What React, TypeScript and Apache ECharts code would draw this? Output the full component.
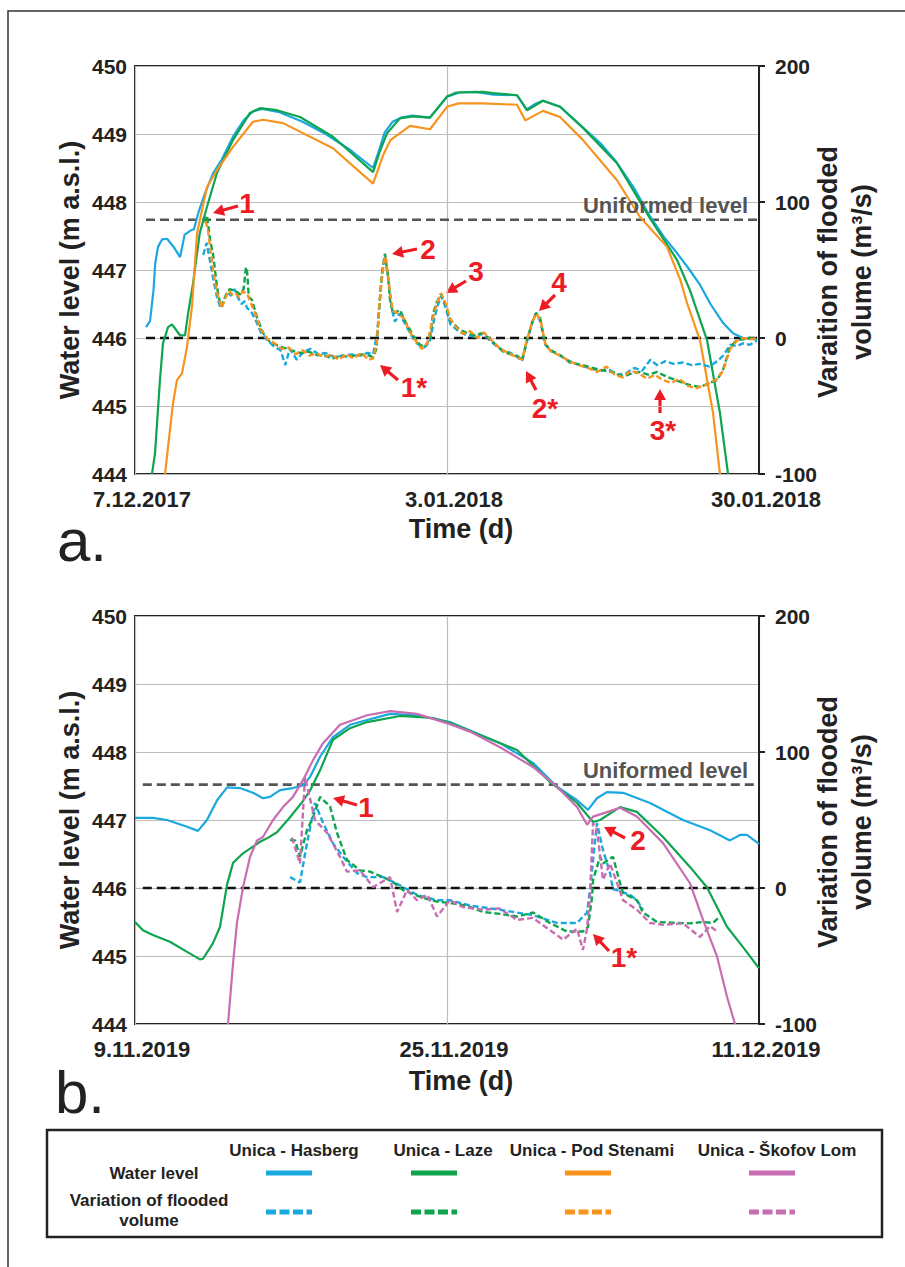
import React, { useEffect, useRef } from "react";
import * as echarts from "echarts";

type P = [number, number];

// ---------- Panel a (days since 7.12.2017) ----------
const ticksA = [0, 27, 54];
const xLabelsA = ["7.12.2017", "3.01.2018", "30.01.2018"];
const uniformedLevelA = 447.74;

const levelHasbergA: P[] = [
  [0.95, 446.16], [1.3, 446.25], [1.6, 446.7], [1.75, 447.1], [1.99, 447.34], [2.34, 447.45], [2.77, 447.46],
  [3.3, 447.35], [3.9, 447.19], [4.3, 447.52], [4.8, 447.58], [5.1, 447.6], [5.5, 447.85], [6.0, 448.1],
  [6.75, 448.42], [7.5, 448.62], [8.48, 448.96], [9.4, 449.2], [10.2, 449.33], [11.0, 449.37], [12.5, 449.32],
  [14.5, 449.18], [16.5, 449.0], [18.5, 448.78], [20.6, 448.5], [21.1, 448.75], [21.6, 449.02], [22.3, 449.18],
  [23.0, 449.24], [24.0, 449.27], [25.5, 449.24], [26.3, 449.4], [27.0, 449.55], [28.1, 449.61], [29.5, 449.62],
  [31.0, 449.58], [33.06, 449.57], [33.9, 449.36], [34.6, 449.44], [35.3, 449.49], [36.8, 449.4], [38.8, 449.09],
  [40.3, 448.86], [41.7, 448.58], [43.2, 448.2], [44.6, 447.78], [45.8, 447.48], [46.9, 447.25], [48.0, 447.0],
  [48.9, 446.78], [49.8, 446.5], [50.9, 446.22], [51.75, 446.07], [52.6, 446.0], [53.8, 445.98]
];
const levelLazeA: P[] = [
  [1.47, 444.0], [1.73, 444.3], [2.16, 445.38], [2.42, 445.92], [2.86, 446.16], [3.2, 446.2], [3.9, 446.04],
  [4.33, 446.04], [4.6, 446.37], [5.02, 446.8], [5.6, 447.54], [6.23, 447.93], [7.1, 448.43], [8.48, 448.91],
  [9.95, 449.31], [10.82, 449.38], [12.29, 449.35], [14.28, 449.25], [17.13, 448.96], [20.6, 448.44],
  [21.2, 448.75], [21.81, 449.01], [22.93, 449.23], [24.06, 449.26], [25.53, 449.24], [27.0, 449.55],
  [27.8, 449.61], [30.1, 449.62], [31.0, 449.6], [33.06, 449.57], [33.92, 449.35], [35.31, 449.49],
  [36.78, 449.4], [38.77, 449.09], [41.71, 448.57], [44.57, 447.76], [46.9, 447.15], [48.03, 446.7],
  [49.5, 445.97], [50.62, 444.9], [51.32, 444.0]
];
const levelPodStenamiA: P[] = [
  [2.6, 444.0], [2.86, 444.4], [3.29, 445.04], [3.63, 445.38], [4.07, 445.48], [4.5, 445.87], [4.93, 446.46],
  [5.37, 447.54], [6.23, 448.22], [7.1, 448.47], [8.48, 448.81], [10.21, 449.18], [11.08, 449.21],
  [12.81, 449.16], [17.13, 448.79], [20.6, 448.27], [21.5, 448.7], [22.1, 448.91], [23.8, 449.12],
  [25.53, 449.07], [27.0, 449.4], [28.0, 449.45], [30.1, 449.45], [33.06, 449.43], [33.78, 449.2],
  [35.31, 449.34], [36.78, 449.25], [38.77, 448.91], [41.71, 448.32], [43.7, 447.78], [46.04, 447.34],
  [47.2, 446.85], [47.8, 446.5], [48.89, 445.97], [50.02, 444.9], [50.62, 444.0]
];
const volHasbergA: P[] = [
  [5.9, 61], [6.2, 70], [6.5, 56], [6.8, 42], [7.1, 30], [7.4, 22], [7.7, 28], [8.0, 34], [8.3, 31], [8.6, 36],
  [8.9, 30], [9.2, 25], [9.5, 27], [9.7, 22], [10.0, 20], [10.4, 14], [10.9, 4], [11.5, -2], [12.0, -6],
  [12.6, -9], [13.0, -20], [13.4, -8], [14.0, -16], [14.6, -10], [15.2, -8], [15.9, -12], [16.5, -11],
  [17.2, -14], [18.0, -13], [18.8, -12], [19.5, -13], [20.1, -11], [20.6, -12], [21.0, 5], [21.3, 40],
  [21.6, 60], [21.9, 45], [22.2, 22], [22.5, 12], [22.9, 18], [23.4, 10], [23.9, 2], [24.4, -4], [25.0, -7],
  [25.5, -3], [25.9, 14], [26.2, 24], [26.5, 31], [26.9, 22], [27.3, 10], [28.0, 5], [28.7, 2], [29.4, 1],
  [30.1, 3], [31.0, -4], [31.8, -9], [32.5, -11], [33.1, -14], [33.5, -17], [34.0, 0], [34.4, 12], [34.7, 18],
  [35.1, 12], [35.5, -5], [36.0, -9], [36.8, -13], [37.6, -17], [38.5, -20], [39.3, -22], [40.2, -24],
  [41.0, -23], [41.8, -27], [42.5, -26], [43.2, -22], [43.9, -24], [44.6, -16], [45.2, -20], [45.9, -17],
  [46.6, -19], [47.4, -18], [48.2, -20], [48.9, -19], [49.7, -21], [50.4, -17], [50.9, -13], [51.5, -5],
  [52.1, -6], [52.6, -4], [53.2, -5], [53.8, -2]
];
const volLazeA: P[] = [
  [6.0, 85], [6.23, 90], [6.5, 72], [6.75, 62], [7.1, 37.5], [7.3, 28], [7.53, 23], [7.8, 30], [7.96, 33],
  [8.2, 36], [8.48, 35], [8.8, 34], [9.09, 32], [9.4, 36], [9.6, 52], [9.69, 50], [9.85, 30], [10.12, 28],
  [10.56, 15], [11.08, 3.6], [11.68, -3], [12.2, -5], [12.81, -7], [13.5, -9], [14.28, -11], [15.0, -10],
  [15.75, -12.5], [16.4, -13], [17.13, -15], [17.8, -13], [18.6, -14], [19.3, -12], [20.08, -12.5],
  [20.6, -14], [20.9, -8], [21.1, 20], [21.4, 50], [21.63, 62], [21.9, 45], [22.07, 28], [22.33, 18],
  [22.93, 20.6], [23.4, 12], [23.8, 6], [24.2, 0], [24.66, -5], [25.1, -6.6], [25.53, 0], [25.79, 18],
  [26.1, 26], [26.48, 32.5], [26.9, 24], [27.26, 13], [28.12, 6], [28.73, 3.7], [29.3, 2], [30.11, 3.7],
  [30.98, -3], [31.85, -10], [32.5, -12], [33.06, -13], [33.49, -16], [34.01, 1], [34.4, 12], [34.7, 18.5],
  [35.05, 15], [35.48, -3.7], [35.91, -9], [36.78, -12.5], [37.64, -18], [38.77, -20], [40.24, -23.5],
  [41.3, -25], [42.23, -28.5], [43.0, -26], [43.7, -25], [44.4, -27], [45.17, -25], [46.04, -28.5],
  [46.8, -31], [47.42, -33], [48.2, -35], [48.89, -36], [49.76, -33], [50.36, -31], [50.88, -23.5],
  [51.49, -6.6], [52.1, -1.5], [52.61, -1], [53.22, 0], [53.83, -1.5]
];
const volPodStenamiA: P[] = [
  [6.1, 86], [6.3, 80], [6.6, 60], [6.9, 42], [7.2, 30], [7.5, 22], [7.8, 29], [8.1, 35], [8.4, 32], [8.7, 33],
  [9.0, 30], [9.3, 34], [9.7, 33], [10.0, 26], [10.4, 18], [10.9, 6], [11.5, -1], [12.1, -4], [12.7, -8],
  [13.3, -7], [13.9, -12], [14.5, -9], [15.1, -13], [15.7, -11], [16.3, -14], [17.0, -12], [17.6, -16],
  [18.3, -12], [18.9, -15], [19.6, -11], [20.2, -16], [20.6, -15], [20.9, -5], [21.2, 30], [21.5, 55],
  [21.7, 60], [22.0, 38], [22.3, 20], [22.8, 18], [23.3, 14], [23.8, 4], [24.3, -2], [24.8, -8], [25.3, -4],
  [25.7, 12], [26.1, 25], [26.5, 33], [26.9, 25], [27.3, 14], [27.8, 8], [28.4, 3], [29.0, 5], [29.6, 0],
  [30.2, 4], [30.9, -2], [31.6, -8], [32.3, -11], [33.0, -14], [33.5, -16], [33.9, -2], [34.3, 10],
  [34.7, 18], [35.1, 13], [35.5, -4], [36.0, -10], [36.8, -13], [37.6, -17], [38.4, -20], [39.2, -22],
  [40.0, -25], [40.8, -21], [41.5, -27], [42.2, -29], [42.9, -24], [43.6, -26], [44.3, -30], [45.0, -27],
  [45.7, -31], [46.4, -33], [47.1, -30], [47.8, -35], [48.5, -37], [49.2, -35], [49.8, -33], [50.4, -30],
  [50.9, -24], [51.5, -8], [52.1, -2], [52.6, 0], [53.2, -1], [53.8, 0]
];

// ---------- Panel b (days since 9.11.2019) ----------
const ticksB = [0, 16, 32];
const xLabelsB = ["9.11.2019", "25.11.2019", "11.12.2019"];
const uniformedLevelB = 447.52;

const levelHasbergB: P[] = [
  [0, 447.03], [0.92, 447.03], [1.64, 447.0], [2.67, 446.9], [3.23, 446.84], [3.69, 447.0], [4.21, 447.29],
  [4.72, 447.48], [5.38, 447.47], [6.05, 447.4], [6.56, 447.32], [6.92, 447.34], [7.44, 447.44], [8.1, 447.47],
  [8.62, 447.51], [8.97, 447.63], [9.49, 447.93], [10.15, 448.22], [11.03, 448.4], [11.9, 448.47],
  [13.08, 448.56], [14.46, 448.54], [16.15, 448.44], [18.72, 448.13], [20.41, 447.84], [21.64, 447.49],
  [22.67, 447.29], [23.23, 447.15], [23.69, 447.32], [24.2, 447.41], [25.03, 447.4], [26.41, 447.25],
  [28.1, 447.0], [29.49, 446.85], [30.51, 446.7], [31.03, 446.78], [31.38, 446.78], [31.95, 446.66], [32.0, 446.65]
];
const levelLazeB: P[] = [
  [0, 445.5], [0.41, 445.38], [0.92, 445.31], [1.79, 445.21], [2.67, 445.06], [3.33, 444.95], [3.49, 444.96],
  [4.0, 445.19], [4.36, 445.43], [4.72, 446.05], [5.03, 446.37], [5.54, 446.51], [6.41, 446.68], [6.77, 446.73],
  [7.28, 446.82], [7.95, 447.04], [8.56, 447.26], [8.97, 447.43], [9.49, 447.73], [10.15, 448.18],
  [11.03, 448.35], [11.9, 448.44], [13.59, 448.53], [15.28, 448.5], [16.15, 448.43], [19.59, 448.03],
  [21.28, 447.56], [22.67, 447.25], [23.49, 446.97], [23.85, 447.0], [24.87, 447.19], [25.74, 447.12],
  [27.08, 446.75], [28.46, 446.31], [29.33, 446.01], [30.36, 445.43], [31.18, 445.13], [32.0, 444.82]
];
const levelSkofovLomB: P[] = [
  [4.77, 444.0], [5.03, 444.9], [5.23, 445.49], [5.54, 446.01], [5.9, 446.46], [6.26, 446.7], [6.56, 446.75],
  [7.08, 447.0], [7.59, 447.19], [8.1, 447.34], [8.62, 447.59], [9.13, 447.88], [9.64, 448.13], [10.51, 448.4],
  [11.9, 448.54], [13.08, 448.6], [14.46, 448.56], [16.15, 448.41], [17.18, 448.3], [18.72, 448.07],
  [20.41, 447.78], [21.64, 447.49], [22.67, 447.19], [23.18, 446.93], [23.49, 447.05], [24.36, 447.13],
  [24.87, 447.18], [25.74, 447.05], [27.08, 446.66], [28.46, 446.07], [29.13, 445.53], [29.85, 444.99],
  [30.36, 444.4], [30.77, 444.0]
];
const volHasbergB: P[] = [
  [7.95, 8], [8.46, 4], [8.82, 33], [9.23, 62.5], [9.64, 48], [10.15, 33], [10.67, 23], [11.38, 11], [11.9, 8],
  [12.72, 8], [13.59, 2], [14.46, -5], [15.49, -9], [16.15, -9], [17.2, -13], [18.72, -16], [20.41, -20],
  [21.64, -25.7], [22.67, -25.7], [23.18, -18], [23.33, -1.5], [23.69, 47.8], [24.0, 28], [24.36, 11],
  [24.51, -1], [24.72, -1.5], [25.38, -5], [25.74, -9], [26.05, -16]
];
const volLazeB: P[] = [
  [7.95, 35.3], [8.21, 35], [8.46, 23], [8.82, 42.6], [9.13, 52], [9.49, 67], [10.0, 60], [10.36, 40.5],
  [10.87, 20.6], [11.54, 13], [12.05, 12], [12.72, 8], [13.23, 4.4], [13.74, -1.5], [14.2, -4], [14.7, -7],
  [15.49, -10], [16.15, -11], [17.0, -13], [17.85, -17.6], [18.7, -19], [19.59, -21], [20.41, -18],
  [21.28, -25.7], [22.15, -32], [22.97, -32], [23.23, -28.7], [23.44, -6.6], [23.49, 6], [23.85, 23],
  [24.0, 18], [24.51, 23], [24.87, 3.7], [25.03, -3.7], [25.74, -9], [26.05, -18], [26.77, -25],
  [27.79, -25.7], [28.46, -26], [29.13, -25], [29.64, -25.7], [30.0, -21]
];
const volSkofovLomB: P[] = [
  [8.05, 37], [8.46, 18], [8.72, 81.6], [9.23, 50], [9.85, 40.5], [10.51, 23], [10.87, 12], [11.54, 13],
  [12.21, 0.7], [13.08, 8], [13.44, -17.6], [13.95, -1.5], [14.46, -9], [15.0, -5], [15.49, -21], [16.15, -9],
  [16.8, -14], [17.85, -16], [18.7, -15], [19.59, -23.5], [20.4, -22], [21.28, -31], [21.95, -38],
  [22.67, -30], [22.97, -45.6], [23.18, -30], [23.33, -6.6], [23.49, 47.8], [23.69, 43], [24.0, 6],
  [24.36, 18], [24.72, 3.7], [25.03, -9], [25.74, -16], [26.41, -25.7], [27.08, -27], [28.1, -26],
  [28.97, -36], [29.49, -28], [29.85, -32]
];

// ---------- Legend ----------
const stationNames = ["Unica - Hasberg", "Unica - Laze", "Unica - Pod Stenami", "Unica - Škofov Lom"];
const stationColors = ["#1BA8DF", "#0EA54E", "#F7931E", "#C96DB2"];

const FONT = '"Liberation Sans", Arial, Helvetica, sans-serif';
const RED = "#ED1C24";
const DARK = "#222";

function arrow(tip: P, tail: P): any[] {
  const dx = tip[0] - tail[0];
  const dy = tip[1] - tail[1];
  const len = Math.hypot(dx, dy);
  const ux = dx / len, uy = dy / len;
  const hl = 11, hw = 6;
  const bx = tip[0] - ux * hl, by = tip[1] - uy * hl;
  const px = -uy, py = ux;
  return [
    { type: "line", shape: { x1: tail[0], y1: tail[1], x2: bx + ux * 2, y2: by + uy * 2 }, style: { stroke: RED, lineWidth: 3.2 } },
    { type: "polygon", shape: { points: [[tip[0], tip[1]], [bx + px * hw, by + py * hw], [bx - px * hw, by - py * hw]] }, style: { fill: RED } }
  ];
}

function txt(x: number, y: number, text: string, size: number, opts: any = {}): any {
  return {
    type: "text",
    x, y,
    rotation: opts.rotation || 0,
    z: 100,
    style: {
      text,
      fill: opts.fill || DARK,
      font: `${opts.weight || "bold"} ${size}px ${FONT}`,
      textAlign: opts.align || "center",
      textVerticalAlign: opts.valign || "middle"
    }
  };
}

export default function App() {
  const ref = useRef<HTMLDivElement>(null);

  useEffect(() => {
    if (!ref.current) return;
    const chart = echarts.init(ref.current, undefined, { renderer: "svg" });

    const grids = [
      { left: 135, top: 66, width: 624, height: 408 },
      { left: 135, top: 616, width: 624, height: 408 }
    ];

    const xAxis = (gi: number, max: number, interval: number, ticks: number[], labels: string[]) => ({
      type: "value",
      gridIndex: gi,
      min: 0,
      max,
      interval,
      axisLine: { show: false },
      axisTick: { show: false },
      splitLine: { show: true, lineStyle: { color: "#BDBDBD", width: 1.2 } },
      axisLabel: {
        formatter: (v: number) => {
          const i = ticks.indexOf(v);
          return i >= 0 ? labels[i] : "";
        },
        showMinLabel: true,
        showMaxLabel: true,
        hideOverlap: false,
        color: DARK,
        fontFamily: FONT,
        fontWeight: "bold",
        fontSize: 22,
        margin: 14,
        padding: [0, 0, 0, 14]
      }
    });
    const yLeft = (gi: number) => ({
      type: "value",
      gridIndex: gi,
      min: 444,
      max: 450,
      interval: 1,
      axisLine: { show: false },
      axisTick: { show: false },
      splitLine: { show: true, lineStyle: { color: "#BDBDBD", width: 1.2 } },
      axisLabel: { color: DARK, fontFamily: FONT, fontWeight: "bold", fontSize: 21, margin: 8 }
    });
    const yRight = (gi: number) => ({
      type: "value",
      gridIndex: gi,
      position: "right",
      min: -100,
      max: 200,
      interval: 100,
      axisLine: { show: true, lineStyle: { color: DARK, width: 2 } },
      axisTick: { show: true, inside: false, length: 6, lineStyle: { color: DARK, width: 2 } },
      splitLine: { show: false },
      axisLabel: { color: DARK, fontFamily: FONT, fontWeight: "bold", fontSize: 21, margin: 16 }
    });

    const solid = (name: string, data: P[], color: string, xi: number, yi: number) => ({
      name, type: "line", data, xAxisIndex: xi, yAxisIndex: yi, symbol: "none", clip: true,
      lineStyle: { color, width: 2.2 }, z: 3
    });
    const dashed = (name: string, data: P[], color: string, xi: number, yi: number) => ({
      name, type: "line", data, xAxisIndex: xi, yAxisIndex: yi, symbol: "none", clip: true,
      lineStyle: { color, width: 2.4, type: [6, 3] }, z: 4
    });
    const refLine = (name: string, data: P[], color: string, xi: number, yi: number) => ({
      name, type: "line", data, xAxisIndex: xi, yAxisIndex: yi, symbol: "none", silent: true,
      lineStyle: { color, width: 2.6, type: [9, 5] }, z: 2
    });

    const series: any[] = [
      refLine("uniA", [[0.95, uniformedLevelA], [54, uniformedLevelA]], "#555", 0, 0),
      refLine("zeroA", [[0.95, 446], [54, 446]], "#111", 0, 0),
      solid("Hasberg level a", levelHasbergA, stationColors[0], 0, 0),
      solid("Laze level a", levelLazeA, stationColors[1], 0, 0),
      solid("Pod Stenami level a", levelPodStenamiA, stationColors[2], 0, 0),
      dashed("Hasberg vol a", volHasbergA, stationColors[0], 0, 1),
      dashed("Laze vol a", volLazeA, stationColors[1], 0, 1),
      dashed("Pod Stenami vol a", volPodStenamiA, stationColors[2], 0, 1),

      refLine("uniB", [[0.4, uniformedLevelB], [32, uniformedLevelB]], "#555", 1, 2),
      refLine("zeroB", [[0.4, 446], [32, 446]], "#111", 1, 2),
      solid("Hasberg level b", levelHasbergB, stationColors[0], 1, 2),
      solid("Laze level b", levelLazeB, stationColors[1], 1, 2),
      solid("Skofov Lom level b", levelSkofovLomB, stationColors[3], 1, 2),
      dashed("Hasberg vol b", volHasbergB, stationColors[0], 1, 3),
      dashed("Laze vol b", volLazeB, stationColors[1], 1, 3),
      dashed("Skofov Lom vol b", volSkofovLomB, stationColors[3], 1, 3)
    ];

    const graphic: any[] = [];
    // outer frame
    graphic.push({ type: "rect", shape: { x: 8, y: 11, width: 1000, height: 1400 }, style: { fill: "none", stroke: "#333", lineWidth: 1.5 }, z: 1 });

    // axis names
    const axisNames = (cy: number, first: string) => {
      graphic.push(txt(70, cy, "Water level (m a.s.l.)", 27, { rotation: Math.PI / 2 }));
      graphic.push(txt(828, cy + 2, first, 27, { rotation: Math.PI / 2 }));
      graphic.push(txt(862, cy + 2, "volume (m³/s)", 27, { rotation: Math.PI / 2 }));
    };
    axisNames(270, "Varaition of flooded");
    axisNames(820, "Variation of flooded");
    graphic.push(txt(461, 529, "Time (d)", 27));
    graphic.push(txt(461, 1081, "Time (d)", 27));

    // panel letters
    graphic.push(txt(57, 540, "a.", 60, { weight: "normal", align: "left" }));
    graphic.push(txt(55, 1092, "b.", 60, { weight: "normal", align: "left" }));

    // uniformed level labels
    graphic.push(txt(748, 205, "Uniformed level", 22, { fill: "#555", align: "right" }));
    graphic.push(txt(748, 770, "Uniformed level", 22, { fill: "#555", align: "right" }));

    // annotations panel a
    const annA: [string, P, P, P][] = [
      ["1", [213, 213], [238, 206], [247, 203]],
      ["2", [392, 254], [417, 249], [428, 249]],
      ["3", [446, 293], [466, 281], [476, 271]],
      ["4", [539, 311], [555, 295], [559, 282]],
      ["1*", [380, 365], [398, 380], [414, 387]],
      ["2*", [526, 371], [536, 390], [545, 408]],
      ["3*", [660, 389], [660, 413], [663, 430]]
    ];
    const annB: [string, P, P, P][] = [
      ["1", [333, 798], [357, 805], [366, 807]],
      ["2", [604, 827], [625, 838], [638, 840]],
      ["1*", [593, 934], [609, 951], [624, 957]]
    ];
    [...annA, ...annB].forEach(([t, tip, tail, pos]) => {
      graphic.push(...arrow(tip, tail));
      graphic.push(txt(pos[0], pos[1], t, 28, { fill: RED }));
    });

    // legend box
    graphic.push({ type: "rect", shape: { x: 47, y: 1130, width: 835, height: 107 }, style: { fill: "#fff", stroke: DARK, lineWidth: 2.5 }, z: 50 });
    const headerX = [294, 443, 592, 777];
    const lineX = [266, 411, 565, 749];
    stationNames.forEach((n, i) => {
      graphic.push(txt(headerX[i], 1150, n, 17));
      graphic.push({ type: "line", z: 101, shape: { x1: lineX[i], y1: 1173, x2: lineX[i] + 46, y2: 1173 }, style: { stroke: stationColors[i], lineWidth: 5 } });
      graphic.push({ type: "line", z: 101, shape: { x1: lineX[i], y1: 1212, x2: lineX[i] + 46, y2: 1212 }, style: { stroke: stationColors[i], lineWidth: 5, lineDash: [10, 3.5] } });
    });
    graphic.push(txt(154, 1173, "Water level", 17));
    graphic.push(txt(149, 1200, "Variation of flooded", 17));
    graphic.push(txt(149, 1220, "volume", 17));

    chart.setOption({
      animation: false,
      backgroundColor: "#fff",
      grid: grids.map((g) => ({ ...g, show: true, borderColor: DARK, borderWidth: 2, backgroundColor: "transparent", containLabel: false })),
      xAxis: [xAxis(0, 54, 27, ticksA, xLabelsA), xAxis(1, 32, 16, ticksB, xLabelsB)],
      yAxis: [yLeft(0), yRight(0), yLeft(1), yRight(1)],
      series,
      graphic
    });

    return () => chart.dispose();
  }, []);

  return (
    <div
      ref={ref}
      style={{ position: "absolute", left: 0, top: 0, width: 905, height: 1267, background: "#fff" }}
    />
  );
}
